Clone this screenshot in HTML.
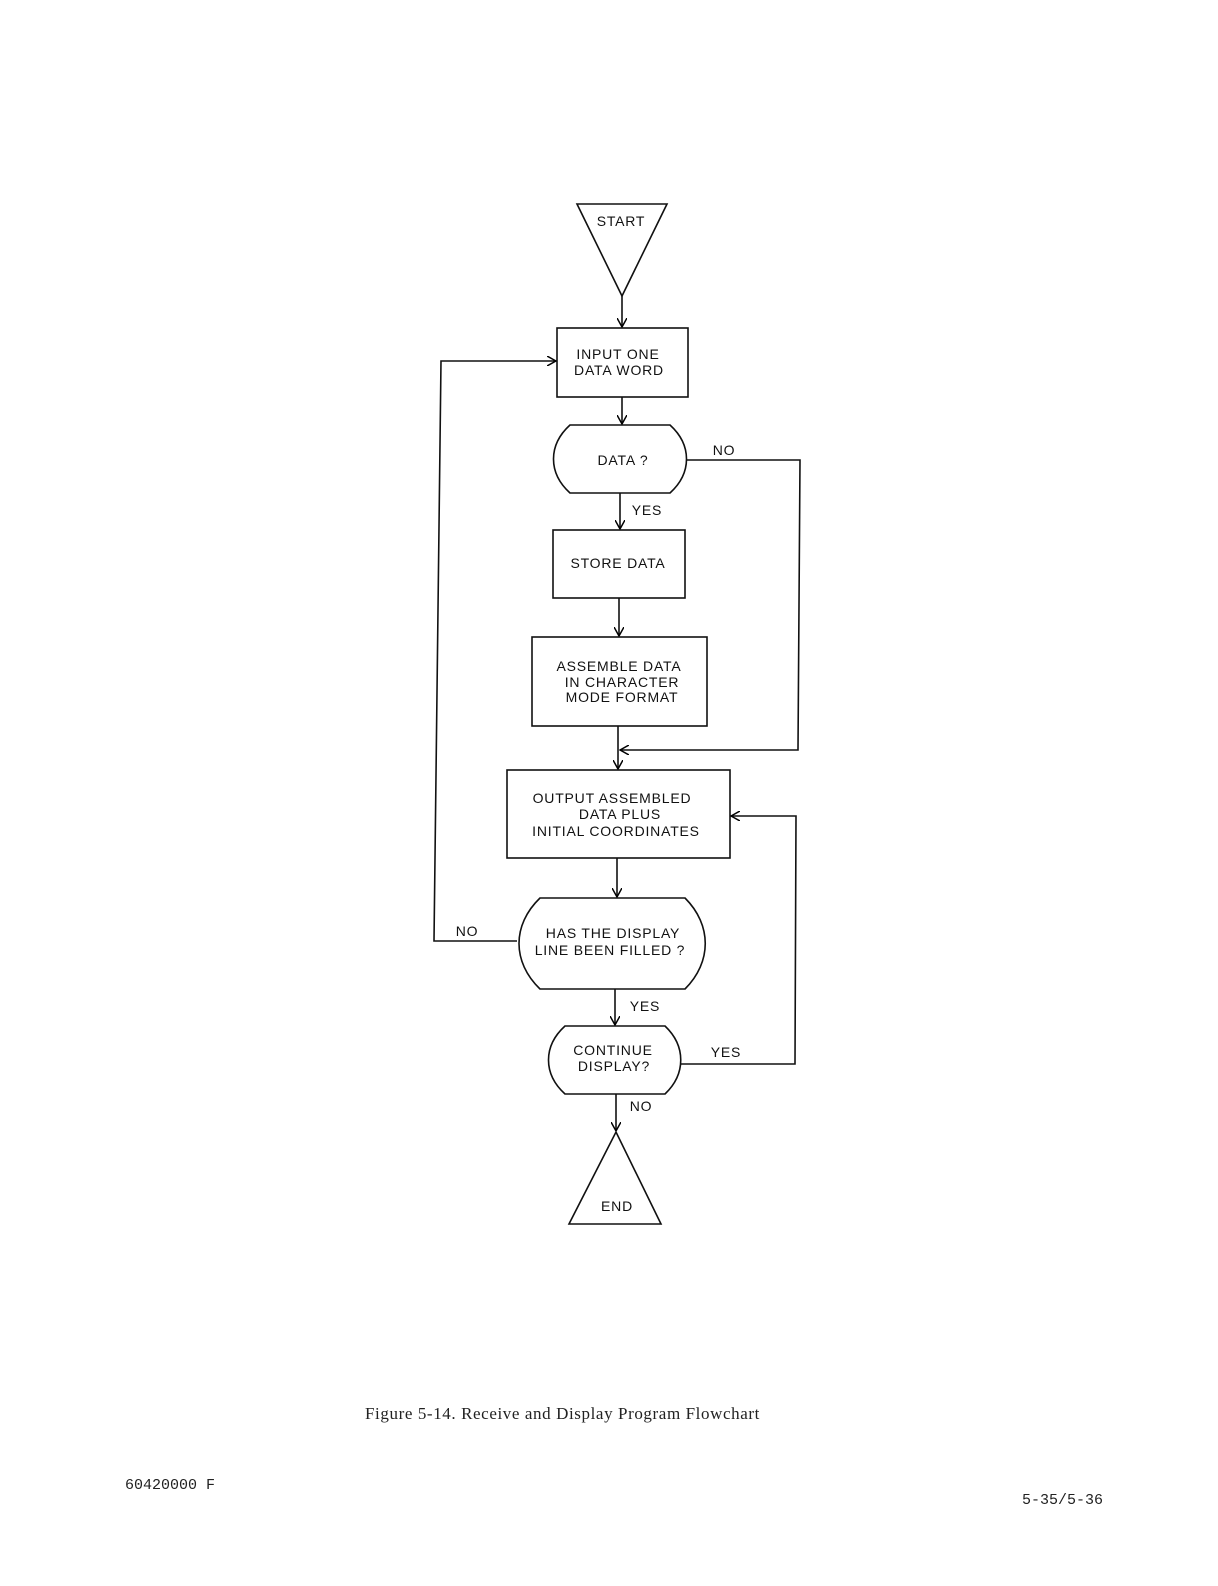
<!DOCTYPE html>
<html><head><style>body{margin:0;background:#fff}</style></head><body>
<svg width="1218" height="1581" viewBox="0 0 1218 1581" xmlns="http://www.w3.org/2000/svg">
<defs><marker id="a" markerWidth="10" markerHeight="10" refX="9" refY="5" orient="auto" markerUnits="userSpaceOnUse"><path d="M0,0 L9,5 L0,10" fill="none" stroke="#000" stroke-width="1.5"/></marker></defs>
<g fill="none" stroke="#111" stroke-width="1.6">
<path d="M577,204 L667,204 L622,296 Z"/>
<line x1="622" y1="296" x2="622" y2="327" marker-end="url(#a)"/>
<rect x="557" y="328" width="131" height="69"/>
<line x1="622" y1="397" x2="622" y2="424" marker-end="url(#a)"/>
<path d="M570,425 L670,425 C692,445 692,473 670,493 L570,493 C548,473 548,445 570,425 Z"/>
<path d="M686,460 L800,460 L798,750 L620,750" marker-end="url(#a)"/>
<line x1="620" y1="493" x2="620" y2="529" marker-end="url(#a)"/>
<rect x="553" y="530" width="132" height="68"/>
<line x1="619" y1="598" x2="619" y2="636" marker-end="url(#a)"/>
<rect x="532" y="637" width="175" height="89"/>
<line x1="618" y1="726" x2="618" y2="769" marker-end="url(#a)"/>
<rect x="507" y="770" width="223" height="88"/>
<line x1="617" y1="858" x2="617" y2="897" marker-end="url(#a)"/>
<path d="M540,898 L685,898 C712,925 712,962 685,989 L540,989 C512,962 512,925 540,898 Z"/>
<path d="M517,941 L434,941 L441,361 L556,361" marker-end="url(#a)"/>
<line x1="615" y1="989" x2="615" y2="1025" marker-end="url(#a)"/>
<path d="M565,1026 L665,1026 C686,1046 686,1074 665,1094 L565,1094 C543,1074 543,1046 565,1026 Z"/>
<path d="M680,1064 L795,1064 L796,816 L731,816" marker-end="url(#a)"/>
<line x1="616" y1="1094" x2="616" y2="1131" marker-end="url(#a)"/>
<path d="M616,1132 L661,1224 L569,1224 Z"/>
</g>
<g font-family="Liberation Sans, sans-serif" font-size="14" fill="#111" text-anchor="middle" letter-spacing="0.8">
<text x="621" y="226">START</text>
<text x="618" y="359">INPUT  ONE</text>
<text x="619" y="375">DATA WORD</text>
<text x="623" y="465">DATA ?</text>
<text x="724" y="455">NO</text>
<text x="647" y="515">YES</text>
<text x="618" y="568">STORE DATA</text>
<text x="619" y="671">ASSEMBLE  DATA</text>
<text x="622" y="687">IN CHARACTER</text>
<text x="622" y="702">MODE FORMAT</text>
<text x="612" y="803">OUTPUT ASSEMBLED</text>
<text x="620" y="819">DATA PLUS</text>
<text x="616" y="836">INITIAL COORDINATES</text>
<text x="613" y="938">HAS THE DISPLAY</text>
<text x="610" y="955">LINE BEEN FILLED ?</text>
<text x="467" y="936">NO</text>
<text x="645" y="1011">YES</text>
<text x="613" y="1055">CONTINUE</text>
<text x="614" y="1071">DISPLAY?</text>
<text x="726" y="1057">YES</text>
<text x="641" y="1111">NO</text>
<text x="617" y="1211">END</text>
</g>
<g font-family="Liberation Serif, serif" font-size="17" fill="#222">
<text x="365" y="1419" letter-spacing="0.6">Figure 5-14.  Receive and Display Program Flowchart</text>
<text x="125" y="1489" font-family="Liberation Mono, monospace" font-size="15">60420000 F</text>
<text x="1022" y="1504" font-family="Liberation Mono, monospace" font-size="15">5-35/5-36</text>
</g>
</svg>
</body></html>
